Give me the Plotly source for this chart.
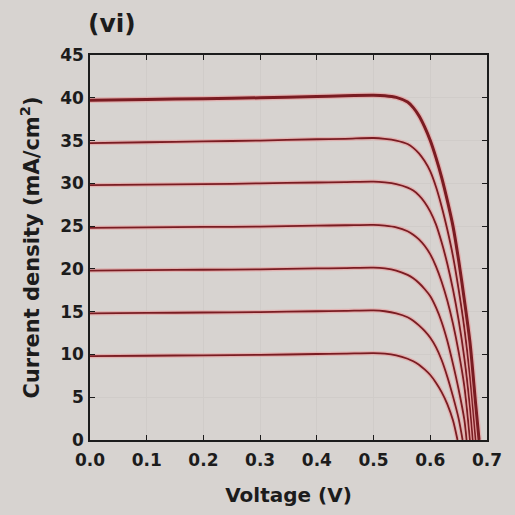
import plotly.graph_objects as go

V_GRID = [0.0, 0.1, 0.2, 0.3, 0.4, 0.45, 0.5, 0.52, 0.54, 0.56, 0.57, 0.58, 0.59,
          0.6, 0.61, 0.62, 0.63, 0.64, 0.65, 0.66, 0.67, 0.68]

# Current density (mA/cm^2) per curve; None = beyond open-circuit voltage
J_10 = [9.8, 9.85, 9.9, 9.95, 10.05, 10.1, 10.15, 10.1, 9.9, 9.5, 9.2, 8.8, 8.25,
        7.6, 6.7, 5.6, 4.2, 2.3, None, None, None, None]
J_15 = [14.8, 14.85, 14.9, 14.95, 15.05, 15.1, 15.15, 15.05, 14.8, 14.35, 13.95, 13.4, 12.75,
        11.95, 10.85, 9.35, 7.4, 5.1, 2.5, None, None, None]
J_20 = [19.8, 19.85, 19.9, 19.95, 20.05, 20.1, 20.15, 20.05, 19.8, 19.3, 18.9, 18.35, 17.65,
        16.8, 15.5, 13.8, 11.6, 8.9, 5.9, 2.4, None, None]
J_25 = [24.8, 24.85, 24.9, 24.95, 25.05, 25.1, 25.15, 25.05, 24.85, 24.4, 24.0, 23.45, 22.7,
        21.7, 20.3, 18.5, 16.3, 13.6, 10.3, 6.3, None, None]
J_30 = [29.8, 29.85, 29.9, 30.0, 30.1, 30.15, 30.2, 30.1, 29.9, 29.5, 29.15, 28.6, 27.8,
        26.7, 25.2, 23.1, 20.6, 17.6, 14.0, 9.6, 3.8, None]
J_35 = [34.7, 34.8, 34.9, 35.0, 35.15, 35.2, 35.3, 35.2, 35.0, 34.6, 34.15, 33.5, 32.6,
        31.4, 29.6, 27.3, 24.6, 21.5, 17.6, 13.1, 7.4, None]
J_40 = [39.7, 39.8, 39.9, 40.0, 40.15, 40.25, 40.3, 40.25, 40.05, 39.5, 38.85, 37.9, 36.6,
        35.0, 33.0, 30.7, 28.0, 25.0, 21.0, 16.4, 11.4, 4.2]

CURVES = [J_10, J_15, J_20, J_25, J_30, J_35, J_40]
VOC = [0.648, 0.657, 0.664, 0.670, 0.675, 0.680, 0.686]
LINE_WIDTHS = [1.8, 1.8, 1.8, 1.8, 1.8, 1.8, 3.0]

X_TICKS = [0.0, 0.1, 0.2, 0.3, 0.4, 0.5, 0.6, 0.7]
Y_TICKS = [0, 5, 10, 15, 20, 25, 30, 35, 40, 45]

BG = "#d7d3d0"
LINE = "#7a1c22"
HALO = "rgba(235,150,150,0.55)"
INK = "#1c1c1c"
FONT = "DejaVu Sans"

fig = go.Figure()
for J, voc, w in zip(CURVES, VOC, LINE_WIDTHS):
    xs = [v for v, j in zip(V_GRID, J) if j is not None] + [voc]
    ys = [j for j in J if j is not None] + [0.0]
    fig.add_trace(go.Scatter(x=xs, y=ys, mode="lines",
                             line=dict(color=HALO, width=w + 2.5, shape="spline", smoothing=0.8),
                             hoverinfo="skip", showlegend=False))
    fig.add_trace(go.Scatter(x=xs, y=ys, mode="lines",
                             line=dict(color=LINE, width=w, shape="spline", smoothing=0.8),
                             showlegend=False))

axis_common = dict(
    showline=True, linecolor=INK, linewidth=1.6, mirror="ticks",
    ticks="inside", ticklen=5, tickwidth=1.4, tickcolor=INK,
    showgrid=True, gridcolor="#d0ccc9", gridwidth=1,
    zeroline=False,
    tickfont=dict(family=FONT, size=17, color=INK, weight="bold"),
)

fig.update_xaxes(range=[0, 0.7], tickvals=X_TICKS, tickformat=".1f",
                 ticklabelstandoff=4,
                 title=dict(text="Voltage (V)", standoff=19,
                            font=dict(family=FONT, size=20, color=INK, weight="bold")),
                 **axis_common)
fig.update_yaxes(range=[0, 45], tickvals=Y_TICKS, ticklabelstandoff=1,
                 title=dict(text="Current density (mA/cm<sup>2</sup>)", standoff=15,
                            font=dict(family=FONT, size=21, color=INK, weight="bold")),
                 **axis_common)

fig.update_layout(
    width=515, height=515,
    margin=dict(l=90, r=28, t=55, b=75),
    paper_bgcolor=BG, plot_bgcolor=BG,
    annotations=[dict(text="(vi)", xref="paper", yref="paper", x=0.055, y=1.04,
                      xanchor="center", yanchor="bottom", showarrow=False,
                      font=dict(family=FONT, size=25, color=INK, weight="bold"))],
)

fig.write_html("out.html")
